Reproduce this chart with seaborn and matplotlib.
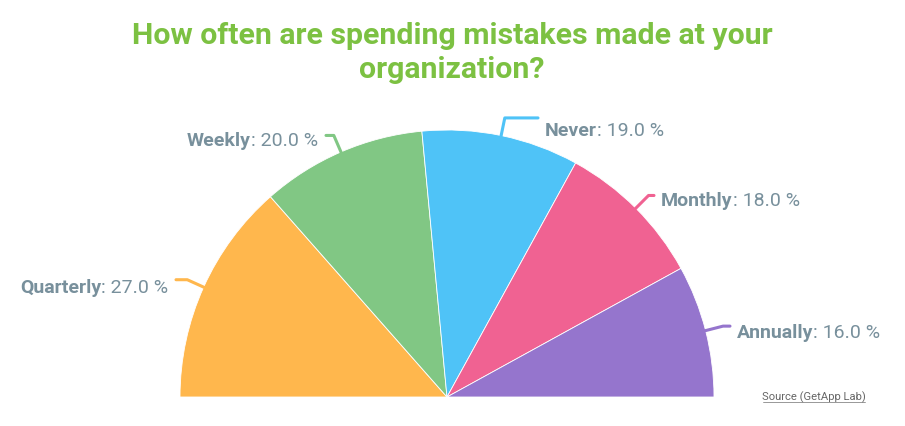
import numpy as np
import matplotlib
matplotlib.use('Agg')
import matplotlib.pyplot as plt
import seaborn as sns

# data
categories = ['Quarterly', 'Weekly', 'Never', 'Monthly', 'Annually']
shares = [27.0, 20.0, 19.0, 18.0, 16.0]
colors = ['#FFB74D', '#81C784', '#4FC3F7', '#F06292', '#9575CD']

sns.set_theme(style='white')
plt.rcParams['font.family'] = ['Roboto', 'DejaVu Sans']

W, H = 905, 427
fig = plt.figure(figsize=(W / 100, H / 100), dpi=100)
ax = fig.add_axes([0, 0, 1, 1])

# semi circle pie: the hidden half takes the other 180 degrees
cx, cy, r = 447, H - 398, 267
vals = shares + [sum(shares)]
wedges, _ = ax.pie(vals, colors=colors + ['none'], startangle=180, counterclock=False,
                   center=(cx, cy), radius=r, frame=True,
                   wedgeprops=dict(edgecolor='white', linewidth=0.6))
wedges[-1].set_edgecolor('none')
ax.set_xlim(0, W)
ax.set_ylim(0, H)
ax.set_aspect('equal')
ax.axis('off')

# label layout (pixel anchors from the top left) and side
label_pos = [(168, 288), (318, 141), (545, 131), (661, 201), (737, 333)]
label_side = ['right', 'right', 'left', 'left', 'left']
label_col = '#78909c'
fs = 14

fig.canvas.draw()
rend = fig.canvas.get_renderer()
inv = ax.transData.inverted()

for w, name, val, (lx, ly), side, col in zip(wedges, categories, shares, label_pos, label_side, colors):
    th = np.deg2rad((w.theta1 + w.theta2) / 2)
    p0 = (cx + (r - 3) * np.cos(th), cy + (r - 3) * np.sin(th))
    p1 = (cx + (r + 18) * np.cos(th), cy + (r + 18) * np.sin(th))
    p2x = lx - 7 if side == 'left' else lx + 8
    ax.plot([p0[0], p1[0], p2x], [p0[1], p1[1], p1[1]], color=col, lw=2.2,
            solid_capstyle='round', solid_joinstyle='round', zorder=3)

    y = H - ly
    if side == 'left':
        t1 = ax.text(lx, y, name, ha='left', va='center', fontsize=fs,
                     fontweight='bold', color=label_col)
        bb = t1.get_window_extent(rend)
        x2 = inv.transform((bb.x1, bb.y0))[0]
        ax.text(x2, y, ': %.1f %%' % val, ha='left', va='center', fontsize=fs, color=label_col)
    else:
        t2 = ax.text(lx, y, ': %.1f %%' % val, ha='right', va='center', fontsize=fs, color=label_col)
        bb = t2.get_window_extent(rend)
        x1 = inv.transform((bb.x0, bb.y0))[0]
        ax.text(x1, y, name, ha='right', va='center', fontsize=fs,
                fontweight='bold', color=label_col)

fig.text(0.4995, 1 - 53 / H, 'How often are spending mistakes made at your\norganization?',
         ha='center', va='center', fontsize=21.8, fontweight='bold', color='#7cc142',
         linespacing=1.28)
fig.text(814 / W, 1 - 397 / H, 'Source (GetApp Lab)', ha='center', va='center',
         fontsize=8.1, color='#666666')
ax.plot([763, 865], [H - 403, H - 403], color='#888888', lw=0.6)

fig.savefig('out.png', dpi=100, facecolor='white')
